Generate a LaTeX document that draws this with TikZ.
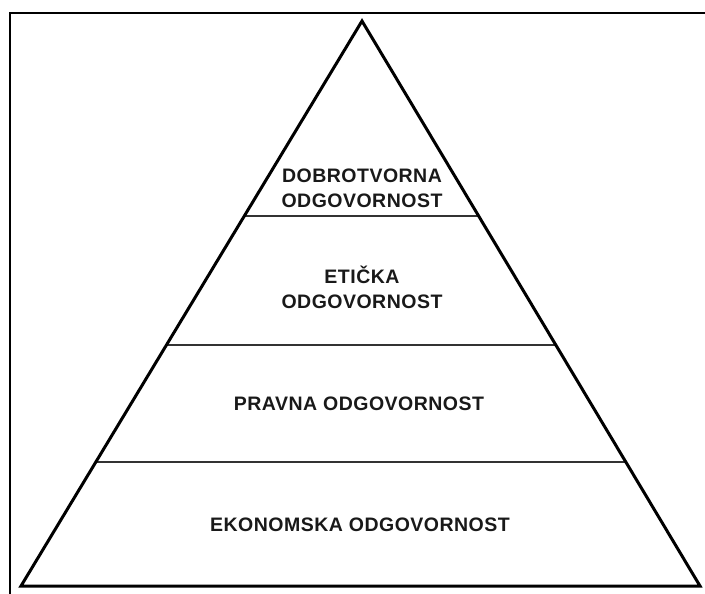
\documentclass[tikz,border=0pt]{standalone}
\usepackage{fontspec}
\setmainfont{Liberation Sans}[LetterSpace=2.5]
\begin{document}
\begin{tikzpicture}[x=1pt,y=-1pt,
  edge/.style={line width=3pt,line join=miter},
  level/.style={line width=1.4pt,draw=black!80},
  lbl/.style={font=\fontsize{19.5}{25}\selectfont\bfseries,align=center,inner sep=0pt,text=black!90}]
\useasboundingbox (0,0) rectangle (705,594);
\begin{scope}
\clip (0,0) rectangle (705,594);
\draw[line width=2pt] (10,12.7) rectangle (720,610);
\end{scope}
\coordinate (apex) at (362,21);
\coordinate (bl) at (21,586);
\coordinate (br) at (700,586);
% level lines
\foreach \y/\n in {216/a,345/b,462/c}{
  \path (apex) -- (bl) coordinate[pos={(\y-21)/565}] (l\n);
  \path (apex) -- (br) coordinate[pos={(\y-21)/565}] (r\n);
  \draw[level] (l\n) -- (r\n);
}
\draw[edge] (apex) -- (bl) -- (br) -- cycle;
\node[lbl] (t1) at (362,188) {DOBROTVORNA\\ODGOVORNOST};
\node[lbl] (t2) at (362,287) {ETIČKA\\ODGOVORNOST};
\node[lbl] (t3) at (359,404) {PRAVNA ODGOVORNOST};
\node[lbl] (t4) at (360,525) {EKONOMSKA ODGOVORNOST};
\end{tikzpicture}
\end{document}
